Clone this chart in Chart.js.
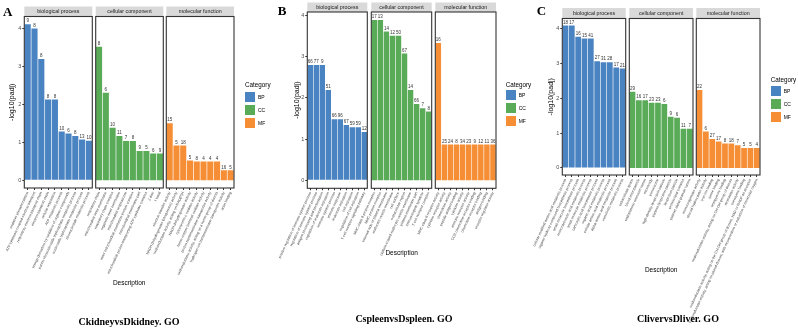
<!DOCTYPE html>
<html>
<head>
<meta charset="utf-8">
<script src="https://cdn.jsdelivr.net/npm/chart.js@4.4.1/dist/chart.umd.min.js"></script>
<style>
  body { margin: 0; background: #fff; }
  #wrap { position: relative; width: 798px; height: 332px; overflow: hidden; font-family: "Liberation Sans", Arial, sans-serif; }
  #wrap canvas { position: absolute; left: 0; top: 0; }
  .txt { position: absolute; white-space: nowrap; line-height: 1; color: #000; }
  .sw { position: absolute; width: 10px; height: 10px; }
</style>
</head>
<body>
<div id="wrap"></div>
<script>
// ---- data ----
const facetNames = ['biological process', 'cellular component', 'molecular function'];
const categoryNames = ['BP', 'CC', 'MF'];
const categoryColors = ['#4A83C2', '#5AAB57', '#F68E36'];
const yTicks = [0, 1, 2, 3, 4];

// A: CkidneyvsDkidney
const kidneyBpTerms = ['oxidative phosphorylation', 'ATP synthesis coupled electron transport', 'respiratory electron transport chain',
  'electron transport chain', 'cellular respiration', 'ATP metabolic process', 'energy derivation by oxidation of organic compounds',
  'purine ribonucleoside triphosphate metabolic process', 'nucleoside triphosphate metabolic process', 'ribonucleotide metabolic process'];
const kidneyBpValues = [4.10, 3.99, 3.19, 2.12, 2.12, 1.28, 1.23, 1.16, 1.07, 1.04];
const kidneyBpCounts = [9, 8, 8, 8, 8, 10, 6, 8, 13, 10];

const kidneyCcTerms = ['respiratory chain', 'mitochondrial inner membrane', 'respiratory chain complex', 'organelle inner membrane',
  'mitochondrial respirasome', 'inner mitochondrial membrane protein complex', 'mitochondrial membrane part',
  'mitochondrial proton-transporting ATP synthase complex', 'Z disc', 'I band'];
const kidneyCcValues = [3.51, 2.30, 1.38, 1.16, 1.03, 1.03, 0.77, 0.77, 0.70, 0.70];
const kidneyCcCounts = [8, 6, 10, 11, 7, 8, 9, 5, 6, 9];

const kidneyMfTerms = ['electron transfer activity', 'NADH dehydrogenase (ubiquinone) activity', 'oxidoreductase activity, acting on NAD(P)H',
  'NADH dehydrogenase activity', 'cytochrome-c oxidase activity', 'heme-copper terminal oxidase activity',
  'proton transmembrane transporter activity', 'oxidoreductase activity, acting on a heme group of donors',
  'hydrogen ion transmembrane transporter activity', 'actin binding'];
const kidneyMfValues = [1.50, 0.91, 0.91, 0.52, 0.49, 0.49, 0.49, 0.49, 0.26, 0.26];
const kidneyMfCounts = [15, 5, 18, 5, 8, 4, 4, 4, 16, 5];

// B: CspleenvsDspleen
const spleenBpTerms = ['positive regulation of immune system process', 'regulation of immune system process', 'antigen processing and presentation',
  'regulation of leukocyte activation', 'immune system process', 'immune response', 'leukocyte activation', 'cell activation',
  'regulation of cell activation', 'T cell receptor signaling pathway'];
const spleenBpValues = [2.80, 2.80, 2.80, 2.19, 1.48, 1.48, 1.34, 1.29, 1.29, 1.17];
const spleenBpCounts = [66, 77, 9, 51, 66, 96, 67, 59, 59, 12];

const spleenCcTerms = ['MHC class II protein complex', 'MHC protein complex', 'external side of plasma membrane', 'endocytic vesicle membrane',
  'cell surface', 'extracellular region', 'clathrin-coated endocytic vesicle membrane', 'plasma membrane part',
  'immunological synapse', 'T cell receptor complex'];
const spleenCcValues = [3.89, 3.89, 3.61, 3.51, 3.51, 3.08, 2.19, 1.85, 1.75, 1.67];
const spleenCcCounts = [17, 13, 14, 12, 50, 67, 14, 66, 7, 8];

const spleenMfTerms = ['MHC class II receptor activity', 'cytokine receptor activity', 'chemokine activity', 'peptide antigen binding',
  'cytokine activity', 'immune receptor activity', 'CCR chemokine receptor binding', 'chemokine receptor binding',
  'antigen binding', 'receptor regulator activity'];
const spleenMfValues = [3.33, 0.87, 0.87, 0.87, 0.87, 0.87, 0.87, 0.87, 0.87, 0.87];
const spleenMfCounts = [16, 25, 24, 8, 34, 23, 9, 12, 11, 36];

// C: ClivervsDliver
const liverBpTerms = ['cellular modified amino acid metabolic process', 'organic hydroxy compound biosynthetic process',
  'small molecule biosynthetic process', 'monocarboxylic acid metabolic process', 'small molecule metabolic process',
  'carboxylic acid biosynthetic process', 'organic acid metabolic process', 'cellular amino acid metabolic process',
  'alpha-amino acid metabolic process', 'xenobiotic metabolic process'];
const liverBpValues = [4.08, 4.08, 3.76, 3.71, 3.71, 3.06, 3.03, 3.03, 2.88, 2.85];
const liverBpCounts = [18, 17, 16, 15, 41, 27, 31, 28, 17, 21];

const liverCcTerms = ['extracellular space', 'blood microparticle', 'endoplasmic reticulum lumen', 'microbody', 'peroxisome',
  'high-density lipoprotein particle', 'plasma lipoprotein particle', 'lipoprotein particle', 'protein-lipid complex',
  'platelet alpha granule lumen'];
const liverCcValues = [2.18, 1.94, 1.94, 1.87, 1.87, 1.83, 1.47, 1.44, 1.12, 1.12];
const liverCcCounts = [29, 16, 17, 23, 23, 6, 9, 6, 11, 7];

const liverMfTerms = ['monooxygenase activity', 'steroid hydroxylase activity', 'iron ion binding', 'heme binding', 'tetrapyrrole binding',
  'oxidoreductase activity, acting on CH-OH group of donors', 'aromatase activity', 'coenzyme binding',
  'oxidoreductase activity, acting on the CH-OH group of donors, NAD or NADP as acceptor',
  'oxidoreductase activity, acting on paired donors, with incorporation or reduction of molecular oxygen'];
const liverMfValues = [2.23, 1.04, 0.83, 0.76, 0.70, 0.70, 0.65, 0.57, 0.57, 0.57];
const liverMfCounts = [22, 6, 27, 17, 8, 18, 7, 5, 5, 4];

// ---- layout ----
const W = 798, H = 332;
const panels = [
  { letter: 'A', letterX: 3, letterY: 4.4, caption: 'CkidneyvsDkidney. GO', capX: 129, capY: 321,
    terms: [kidneyBpTerms, kidneyCcTerms, kidneyMfTerms], values: [kidneyBpValues, kidneyCcValues, kidneyMfValues],
    counts: [kidneyBpCounts, kidneyCcCounts, kidneyMfCounts],
    boxes: [[24.3, 92.3], [95.7, 163.3], [166.3, 234]], top: 16.5, bottom: 188, stripTop: 6.5,
    axisLeft: 0.3, titlePad: 7.3, descY: 283, legX: 245, legY: 85, keyTop: 92 },
  { letter: 'B', letterX: 277.7, letterY: 2.7, caption: 'CspleenvsDspleen. GO', capX: 404, capY: 318,
    terms: [spleenBpTerms, spleenCcTerms, spleenMfTerms], values: [spleenBpValues, spleenCcValues, spleenMfValues],
    counts: [spleenBpCounts, spleenCcCounts, spleenMfCounts],
    boxes: [[307.3, 367.3], [371.3, 431.7], [435.3, 496]], top: 12, bottom: 188.3, stripTop: 2.5,
    axisLeft: 291.3, titlePad: 1.2, descY: 253, legX: 505.7, legY: 85, keyTop: 90 },
  { letter: 'C', letterX: 536.7, letterY: 2.7, caption: 'ClivervsDliver. GO', capX: 678, capY: 318,
    terms: [liverBpTerms, liverCcTerms, liverMfTerms], values: [liverBpValues, liverCcValues, liverMfValues],
    counts: [liverBpCounts, liverCcCounts, liverMfCounts],
    boxes: [[562.3, 625.7], [629.3, 693], [696.3, 760]], top: 18.5, bottom: 175, stripTop: 8,
    axisLeft: 546.3, titlePad: 0.2, descY: 270, legX: 770.7, legY: 80, keyTop: 86 }
];

Chart.defaults.font.family = "'Liberation Sans', Arial, sans-serif";
const wrap = document.getElementById('wrap');

// strip, frame and count labels for one facet
const facetPlugin = {
  id: 'facetFrame',
  beforeDraw(chart, args, opts) {
    const { ctx, chartArea: a } = chart;
    ctx.save();
    ctx.fillStyle = '#D9D9D9';
    ctx.fillRect(a.left, opts.stripTop, a.right - a.left, a.top - opts.stripTop);
    ctx.fillStyle = '#1A1A1A';
    ctx.font = "5.3px 'Liberation Sans', Arial, sans-serif";
    ctx.textAlign = 'center';
    ctx.textBaseline = 'middle';
    ctx.fillText(opts.name, (a.left + a.right) / 2, (opts.stripTop + a.top) / 2 + 0.3);
    ctx.restore();
  },
  afterDatasetsDraw(chart, args, opts) {
    const ctx = chart.ctx;
    ctx.save();
    ctx.fillStyle = '#333';
    ctx.font = "4.5px 'Liberation Sans', Arial, sans-serif";
    ctx.textAlign = 'center';
    ctx.textBaseline = 'bottom';
    chart.getDatasetMeta(0).data.forEach((bar, i) => {
      ctx.fillText(String(opts.counts[i]), bar.x, bar.y - 0.8);
    });
    ctx.restore();
  },
  afterDraw(chart) {
    const { ctx, chartArea: a } = chart;
    ctx.save();
    ctx.strokeStyle = '#333';
    ctx.lineWidth = 1.1;
    ctx.strokeRect(a.left, a.top, a.right - a.left, a.bottom - a.top);
    ctx.restore();
  }
};

function addText(text, x, y, css, transform) {
  const el = document.createElement('div');
  el.className = 'txt';
  el.textContent = text;
  el.style.cssText += css;
  el.style.left = x + 'px';
  el.style.top = y + 'px';
  if (transform) el.style.transform = transform;
  wrap.appendChild(el);
}

panels.forEach(p => {
  const ymax = Math.max(...p.values.flat());
  p.boxes.forEach(([x0, x1], f) => {
    const first = f === 0;
    const yW = first ? x0 - p.axisLeft : 0;
    const canvas = document.createElement('canvas');
    canvas.width = W;
    canvas.height = H;
    wrap.appendChild(canvas);
    new Chart(canvas, {
      type: 'bar',
      data: {
        labels: p.terms[f],
        datasets: [{
          label: categoryNames[f],
          data: p.values[f],
          backgroundColor: categoryColors[f],
          barPercentage: 0.9,
          categoryPercentage: 1
        }]
      },
      options: {
        responsive: false,
        animation: false,
        events: [],
        layout: { padding: { left: x0 - yW, right: W - x1, top: p.top, bottom: 0 } },
        plugins: {
          legend: { display: false },
          tooltip: { enabled: false },
          facetFrame: { name: facetNames[f], stripTop: p.stripTop, counts: p.counts[f] }
        },
        scales: {
          x: {
            grid: { drawOnChartArea: false, drawTicks: true, tickLength: 2, color: '#333', offset: false },
            border: { display: false },
            ticks: { autoSkip: false, minRotation: 65, maxRotation: 65, padding: 1, color: '#444', font: { size: 3.6 } },
            afterFit: ax => { ax.height = H - p.bottom; ax.paddingLeft = 0; ax.paddingRight = 0; }
          },
          y: {
            display: first,
            min: -0.05 * ymax,
            max: 1.05 * ymax,
            grid: { drawOnChartArea: false, drawTicks: true, tickLength: 2, color: '#333' },
            border: { display: false },
            ticks: { padding: 1, color: '#4D4D4D', font: { size: 5.5 } },
            afterBuildTicks: ax => { ax.ticks = yTicks.map(v => ({ value: v })); },
            title: { display: true, text: '-log10(padj)', color: '#000', font: { size: 7 }, padding: { top: p.titlePad, bottom: 0 } },
            afterFit: ax => { ax.width = yW; }
          }
        }
      },
      plugins: [facetPlugin]
    });
  });

  // panel texts
  const mid = (p.boxes[0][0] + p.boxes[2][1]) / 2;
  addText(p.letter, p.letterX, p.letterY, "font: bold 13px 'Liberation Serif', 'Times New Roman', serif;");
  addText('Description', mid, p.descY, 'font-size: 6.5px;', 'translate(-50%, -50%)');
  addText(p.caption, p.capX, p.capY, "font: bold 10px 'Liberation Serif', 'Times New Roman', serif;", 'translate(-50%, -50%)');
  addText('Category', p.legX, p.legY, 'font-size: 6.3px;', 'translateY(-50%)');
  categoryNames.forEach((c, i) => {
    const sw = document.createElement('div');
    sw.className = 'sw';
    sw.style.left = p.legX + 'px';
    sw.style.top = (p.keyTop + 13 * i) + 'px';
    sw.style.background = categoryColors[i];
    wrap.appendChild(sw);
    addText(c, p.legX + 13, p.keyTop + 13 * i + 5, 'font-size: 5px;', 'translateY(-50%)');
  });
});
</script>
</body>
</html>
